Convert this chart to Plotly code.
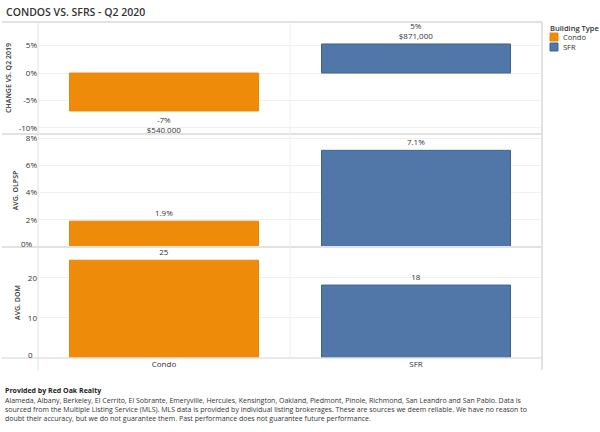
import plotly.graph_objects as go

categories = ["Condo", "SFR"]
change_vals = [-6.9, 5.3]
change_labels = ["-7%<br>$540,000", "5%<br>$871,000"]
olpsp_vals = [1.9, 7.1]
olpsp_labels = ["1.9%", "7.1%"]
dom_vals = [24.4, 18.2]
dom_labels = ["25", "18"]

change_ticks = [-10, -5, 0, 5]
olpsp_ticks = [0, 2, 4, 6, 8]
dom_ticks = [0, 10, 20]

colors = {"Condo": "#EE8C0A", "SFR": "#5077A7"}
borders = {"Condo": "#E8870A", "SFR": "#3E6492"}

W, H = 600, 432
L, R, T, B = 38, 542, 22, 358
PW, PH = R - L, B - T

def px(x):
    return (x - L) / PW

def py(y):
    return (B - y) / PH

FONT = "Open Sans"
TXT = "#333333"

fig = go.Figure()

panels = [
    ("y", change_vals, change_labels),
    ("y2", olpsp_vals, olpsp_labels),
    ("y3", dom_vals, dom_labels),
]

for pi, (yax, vals, labels) in enumerate(panels):
    for ci, cat in enumerate(categories):
        fig.add_trace(go.Bar(
            x=[cat], y=[vals[ci]], text=[labels[ci]],
            textposition="outside", cliponaxis=False,
            textfont=dict(size=8, color=TXT, family=FONT),
            marker=dict(color=colors[cat], line=dict(color=borders[cat], width=1)),
            width=0.75, name=cat, showlegend=False,
            yaxis=yax, xaxis="x", hoverinfo="skip",
        ))

axis_common = dict(
    showgrid=True, gridcolor="#f0f0f0", gridwidth=1, zeroline=False, automargin=False,
    tickfont=dict(size=8, color=TXT, family=FONT), ticks="", showline=False,
    title_font=dict(size=7, color=TXT, family=FONT, weight=600), title_standoff=6,
)

fig.update_layout(
    width=W, height=H,
    margin=dict(l=L, r=W - R, t=T, b=H - B, pad=0),
    paper_bgcolor="white", plot_bgcolor="white",
    barmode="overlay",
    font=dict(family=FONT, color=TXT, size=8),
    xaxis=dict(domain=[0, 1], showgrid=False, automargin=False, range=[-0.5, 1.5],
               tickfont=dict(size=8, color=TXT, family=FONT),
               ticks="", anchor="y3", categoryorder="array", categoryarray=categories),
    yaxis=dict(domain=[py(134), 1], range=[-11.1, 9.3], tickvals=change_ticks,
               ticktext=[f"{v}%" for v in change_ticks], title_text="CHANGE VS. Q2 2019",
               **axis_common),
    yaxis2=dict(domain=[py(247), py(134)], range=[0, 8.3], tickvals=olpsp_ticks[1:],
                ticktext=[f"{v}%" for v in olpsp_ticks[1:]], title_text="AVG. OLPSP",
                **axis_common),
    yaxis3=dict(domain=[0, py(247)], range=[0, 27.7], tickvals=dom_ticks[1:],
                ticktext=[str(v) for v in dom_ticks[1:]], title_text="AVG. DOM",
                **axis_common),
    showlegend=False,
)

line_c = "#e2e2e2"
shapes = []
for yy, w in [(22, 2), (134, 2), (247, 2), (358, 1.5)]:
    shapes.append(dict(type="line", xref="paper", yref="paper",
                       x0=px(2), x1=px(542), y0=py(yy), y1=py(yy),
                       line=dict(color=line_c, width=w)))
shapes.append(dict(type="line", xref="paper", yref="paper", x0=px(38), x1=px(38),
                   y0=py(22), y1=py(370), line=dict(color=line_c, width=1)))
shapes.append(dict(type="line", xref="paper", yref="paper", x0=px(290), x1=px(290),
                   y0=py(22), y1=py(358), line=dict(color="#eeeeee", width=1)))
shapes.append(dict(type="line", xref="paper", yref="paper", x0=px(542), x1=px(542),
                   y0=py(22), y1=py(370), line=dict(color=line_c, width=2)))

annotations = [
    dict(text="CONDOS VS. SFRS - Q2 2020", x=px(4), y=py(12), xref="paper", yref="paper",
         xanchor="left", yanchor="middle", showarrow=False,
         font=dict(size=10.5, color=TXT, family=FONT, weight=600)),
    dict(text="Building Type", x=px(548), y=py(28), xref="paper", yref="paper",
         xanchor="left", yanchor="middle", showarrow=False,
         font=dict(size=7.5, color=TXT, family=FONT, weight=600)),
]
# baseline tick labels, nudged upward as in the reference
annotations.append(dict(text=f"{olpsp_ticks[0]}%", x=px(35), xref="paper", xanchor="right",
                        y=olpsp_ticks[0], yref="y2", yanchor="middle", yshift=4, showarrow=False,
                        font=dict(size=8, color=TXT, family=FONT)))
annotations.append(dict(text=str(dom_ticks[0]), x=px(35), xref="paper", xanchor="right",
                        y=dom_ticks[0], yref="y3", yanchor="middle", yshift=4, showarrow=False,
                        font=dict(size=8, color=TXT, family=FONT)))

for i, cat in enumerate(categories):
    top = 33 + i * 10
    shapes.append(dict(type="rect", xref="paper", yref="paper",
                       x0=px(550), x1=px(558), y0=py(top), y1=py(top + 8),
                       fillcolor=colors[cat], line=dict(color=borders[cat], width=1)))
    annotations.append(dict(text=cat, x=px(561), y=py(top + 4), xref="paper", yref="paper",
                            xanchor="left", yanchor="middle", showarrow=False,
                            font=dict(size=7.5, color=TXT, family=FONT)))

annotations += [
    dict(text="<b>Provided by Red Oak Realty</b>", x=px(3), y=py(390), xref="paper", yref="paper",
         xanchor="left", yanchor="middle", showarrow=False,
         font=dict(size=7, color="#222222", family=FONT)),
    dict(text=("Alameda, Albany, Berkeley, El Cerrito, El Sobrante, Emeryville, Hercules, Kensington, Oakland, Piedmont, Pinole, Richmond, San Leandro and San Pablo. Data is<br>"
               "sourced from the Multiple Listing Service (MLS). MLS data is provided by individual listing brokerages. These are sources we deem reliable. We have no reason to<br>"
               "doubt their accuracy, but we do not guarantee them. Past performance does not guarantee future performance."),
         x=px(3), y=py(394), xref="paper", yref="paper", xanchor="left", yanchor="top",
         align="left", showarrow=False,
         font=dict(size=7, color="#333333", family=FONT)),
]
fig.update_layout(shapes=shapes, annotations=annotations)

fig.write_html("out.html", config={"displayModeBar": False},
               post_script="document.body.style.margin='0';document.body.style.overflow='hidden';")
